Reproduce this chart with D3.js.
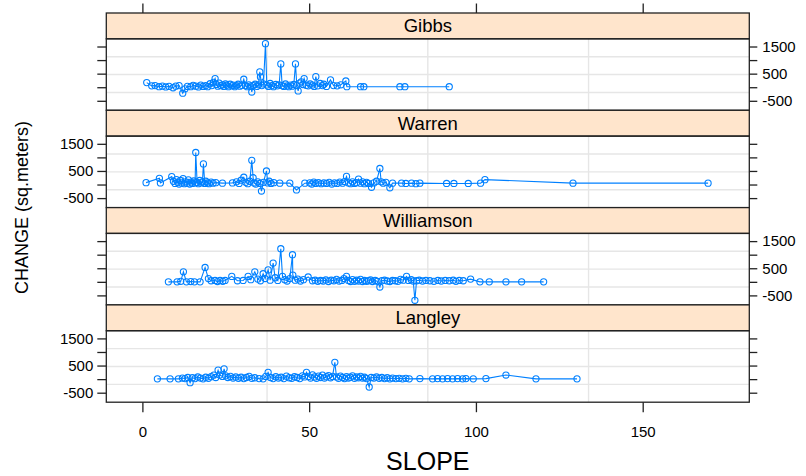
<!DOCTYPE html>
<html><head><meta charset="utf-8">
<script src="https://cdn.jsdelivr.net/npm/d3@7"></script>
<style>body{margin:0;background:#fff}svg{display:block}text{font-family:"Liberation Sans",Arial,sans-serif;fill:#000}</style>
</head><body>
<svg id="chart" width="806" height="476"></svg>
<script>
const panelNames = ["Gibbs", "Warren", "Williamson", "Langley"];
const xTicks = [0, 50, 100, 150];
const yTicks = [-500, 0, 500, 1000, 1500];
const yTickLabels = [-500, 500, 1500];

const gibbsSlope = [1.3,2.8,3.8,5,6,7,8,9.2,10,11,12.1,12.8,13.5,14.5,15.2,16,16.8,17.5,18.2,19,19.6,20.3,20.8,21.3,21.8,22.2,22.6,23,23.5,24,24.4,24.9,25.3,25.8,26.3,26.8,27.2,27.7,28.2,28.7,29.2,29.8,30.4,30.9,31.4,31.9,32.4,32.8,33.3,33.8,34.3,34.8,35.2,35.4,35.8,36.3,36.9,37.3,37.8,38.3,38.8,39.3,40,40.5,41,41.5,41.9,42.4,42.9,43.4,43.9,44.4,44.9,45.4,45.9,46.3,46.7,47.2,47.6,48.1,48.5,49.1,49.7,50.3,51,51.5,52,52.6,53.3,54,54.4,55.2,56.4,57.3,58.4,59.5,61,61.3,65.4,66.4,77.2,78.7,92];
const gibbsChange = [170,50,60,20,40,10,30,-20,40,60,-220,-60,30,20,70,40,10,80,30,60,20,130,60,180,320,100,40,150,60,90,30,120,70,20,110,50,80,20,60,110,40,70,295,60,20,90,40,-175,60,110,30,90,565,380,60,120,1605,80,30,140,60,20,100,50,90,860,60,30,120,50,20,80,40,100,860,60,-135,150,200,100,320,70,50,120,80,30,390,50,140,60,110,30,270,60,50,90,230,20,20,20,20,20,20];

const warrenSlope = [1.1,5.1,5.4,8.8,9.3,9.8,10.2,10.6,11,11.4,11.8,12.2,12.6,13,13.4,13.8,14.2,14.6,15,15.4,15.8,16,16.4,16.8,17.2,17.6,18,18.3,18.7,19,19.5,20,20.6,21.2,22,24,27,28.2,29,29.6,30.4,31,31.6,32.2,32.8,33.2,33.5,34,34.6,35.2,35.7,36.3,37.2,37.6,38,38.6,39.4,41.2,44.2,46.2,48.7,50.2,50.8,51.4,52,52.8,53.6,54.4,55.2,56,56.8,57.6,58.4,59.2,60,60.6,61.2,61.8,62.4,63,63.6,64.2,64.8,65.4,66,66.6,67.2,67.8,68.7,69.4,70.2,71.2,71.6,72.2,73,74.2,75,77.7,79,80.7,82,83.2,91.2,93.4,97.7,101.4,102.7,129.1,169.6];
const warrenChange = [70,230,60,290,120,40,180,80,20,150,60,220,30,100,50,170,20,90,40,130,60,1180,80,30,150,60,100,760,40,120,60,30,90,50,70,50,60,100,40,160,270,80,30,120,890,250,60,20,100,40,-240,80,500,60,120,40,70,50,50,-200,50,60,20,90,40,70,30,60,40,80,20,60,40,90,50,110,300,60,30,100,40,70,200,50,100,30,80,40,-100,60,120,590,100,50,80,-120,50,50,40,50,30,50,40,40,40,50,180,50,50];

const williamsonSlope = [7.8,10.4,11.5,12.3,13.2,14.5,15.6,17.3,18.8,19.8,20.6,21.8,22.5,23.3,24.1,24.8,26.8,28.5,30.2,31.7,32.5,33.7,34.6,35.4,36.2,36.8,37.7,38.3,39.2,39.8,40.6,41.5,42,42.7,43.4,44.2,45,45.1,45.8,46.6,47.4,48.3,49.7,51,51.8,52.6,53.4,54.2,55,55.8,56.6,57.4,58.2,59,59.8,60.4,61.2,61.8,62.4,63,63.6,64.2,64.8,65.4,66,66.6,67.2,67.8,68.4,69,69.8,70.4,71.2,71.8,72.6,73.4,74.2,75,75.8,76.6,77.4,78.2,79.2,79.8,80.6,81.2,81.7,82.2,83,84,85,86.2,87.4,88.6,89.6,90.8,92,93.2,94,95,96.2,98.4,101.2,104,109,113.7,120.3];
const williamsonChange = [0,0,20,370,0,10,0,0,530,120,40,50,10,50,20,50,200,40,50,200,80,370,100,40,300,120,440,60,690,150,50,1220,200,80,30,120,1000,250,60,100,30,80,180,40,60,20,50,30,70,10,60,40,90,30,50,120,200,50,10,80,20,60,30,90,10,50,20,40,70,10,50,20,-190,40,60,30,10,50,40,20,90,60,200,50,80,30,-680,40,60,30,50,40,20,50,30,50,40,60,20,50,40,100,0,0,0,0,0];

const langleySlope = [4.5,8.3,10.8,12,12.8,13.6,14.3,15,15.8,16.6,17.4,18.2,19,19.8,20.6,21.4,22,22.7,23.2,24,24.5,25,25.6,26.4,27.2,28,28.8,29.6,30.4,31.2,32,32.8,33.7,35,36.2,37,37.7,38.4,39.2,40,40.8,41.6,42.4,43.2,44,44.8,45.6,46.4,47.2,48,48.6,49.2,49.8,50.4,51,51.6,52.2,52.8,53.4,54,54.6,55.2,55.8,56.4,57,57.7,58.2,58.8,59.4,60,60.6,61.2,61.8,62.4,63,63.6,64.2,64.8,65.4,66,66.6,67.2,68,68.6,69.4,70.2,71,71.8,72.6,73.4,74.2,75,76,77,78,79,80,83.2,87,88.5,90,91.5,93,94.5,96,97,99.2,103,109,118,130.3];
const langleyChange = [10,10,10,40,20,60,-130,50,20,80,40,10,70,30,90,150,60,330,150,100,380,120,60,100,40,80,30,70,20,60,100,30,50,20,10,100,250,60,20,90,40,70,20,110,50,30,90,60,20,120,80,250,100,40,160,80,30,110,60,150,40,90,130,50,100,620,80,30,110,60,20,90,40,70,120,30,80,50,100,40,70,20,-290,60,40,80,30,60,20,50,10,40,20,30,10,30,10,20,10,20,10,20,10,20,10,20,10,20,150,10,10];

const slopes = [gibbsSlope, warrenSlope, williamsonSlope, langleySlope];
const changes = [gibbsChange, warrenChange, williamsonChange, langleyChange];

const svg = d3.select("#chart");
const L = 106.3, R = 749.3, top0 = 13, stripH = 25.8, panelH = 71.5, blockH = stripH + panelH;
const col = "#0080ff";

const x = d3.scaleLinear().domain([-10.82, 181.96]).range([L, R]);

panelNames.forEach((name, i) => {
  const sTop = top0 + i * blockH;
  const pTop = sTop + stripH;
  const pBot = pTop + panelH;
  const y = d3.scaleLinear().domain([-850, 1784]).range([pBot, pTop]);
  const g = svg.append("g");

  // grid (quartiles of panel)
  [0.25, 0.5, 0.75].forEach(f => {
    g.append("line").attr("x1", L + f * (R - L)).attr("x2", L + f * (R - L))
      .attr("y1", pTop).attr("y2", pBot).attr("stroke", "#e6e6e6").attr("stroke-width", 1.4);
    g.append("line").attr("x1", L).attr("x2", R)
      .attr("y1", pTop + f * panelH).attr("y2", pTop + f * panelH).attr("stroke", "#e6e6e6").attr("stroke-width", 1.4);
  });

  // strip
  g.append("rect").attr("x", L).attr("y", sTop).attr("width", R - L).attr("height", stripH)
    .attr("fill", "#ffe5cc").attr("stroke", "#222").attr("stroke-width", 1.3);
  g.append("text").attr("x", (L + R) / 2).attr("y", sTop + stripH / 2 + 6.5)
    .attr("text-anchor", "middle").attr("font-size", 18.5).text(name);

  // data
  const n = Math.min(slopes[i].length, changes[i].length);
  const pts = d3.range(n).map(k => [slopes[i][k], changes[i][k]]);
  const clipId = "clip" + i;
  svg.append("clipPath").attr("id", clipId).append("rect")
    .attr("x", L).attr("y", pTop).attr("width", R - L).attr("height", panelH);
  const dg = g.append("g").attr("clip-path", `url(#${clipId})`);
  dg.append("path").datum(pts)
    .attr("d", d3.line().x(d => x(d[0])).y(d => y(d[1])))
    .attr("fill", "none").attr("stroke", col).attr("stroke-width", 1.1);
  dg.selectAll("circle").data(pts).join("circle")
    .attr("cx", d => x(d[0])).attr("cy", d => y(d[1])).attr("r", 3.1)
    .attr("fill", "none").attr("stroke", col).attr("stroke-width", 1.1);

  // panel border
  g.append("rect").attr("x", L).attr("y", pTop).attr("width", R - L).attr("height", panelH)
    .attr("fill", "none").attr("stroke", "#222").attr("stroke-width", 1.3);

  // y axes: ticks both sides, labels alternate
  const leftAx = d3.axisLeft(y).tickValues(yTicks).tickSize(9).tickPadding(4)
    .tickFormat(d => (i % 2 === 1 && yTickLabels.includes(d)) ? d : "");
  const rightAx = d3.axisRight(y).tickValues(yTicks).tickSize(8).tickPadding(5)
    .tickFormat(d => (i % 2 === 0 && yTickLabels.includes(d)) ? d : "");
  const la = g.append("g").attr("transform", `translate(${L},0)`).call(leftAx);
  const ra = g.append("g").attr("transform", `translate(${R},0)`).call(rightAx);
  [la, ra].forEach(a => {
    a.select(".domain").remove();
    a.selectAll(".tick line").attr("stroke", "#222").attr("stroke-width", 1.3);
    a.selectAll(".tick text").attr("font-size", 15).attr("font-family", "Liberation Sans, Arial, sans-serif").attr("fill", "#000");
  });
});

// top & bottom x axes
const bottomY = top0 + 4 * blockH;
const topAx = svg.append("g").attr("transform", `translate(0,${top0})`)
  .call(d3.axisTop(x).tickValues(xTicks).tickSize(9.5).tickFormat(""));
const botAx = svg.append("g").attr("transform", `translate(0,${bottomY})`)
  .call(d3.axisBottom(x).tickValues(xTicks).tickSize(10).tickPadding(14).tickFormat(d3.format("d")));
[topAx, botAx].forEach(a => {
  a.select(".domain").remove();
  a.selectAll(".tick line").attr("stroke", "#222").attr("stroke-width", 1.3);
  a.selectAll(".tick text").attr("font-size", 15).attr("font-family", "Liberation Sans, Arial, sans-serif").attr("fill", "#000");
});

// axis titles
svg.append("text").attr("x", (L + R) / 2).attr("y", 470).attr("text-anchor", "middle")
  .attr("font-size", 25).text("SLOPE");
svg.append("text").attr("transform", `translate(28,${(top0 + bottomY) / 2}) rotate(-90)`)
  .attr("text-anchor", "middle").attr("font-size", 18).text("CHANGE (sq.meters)");
</script>
</body></html>
